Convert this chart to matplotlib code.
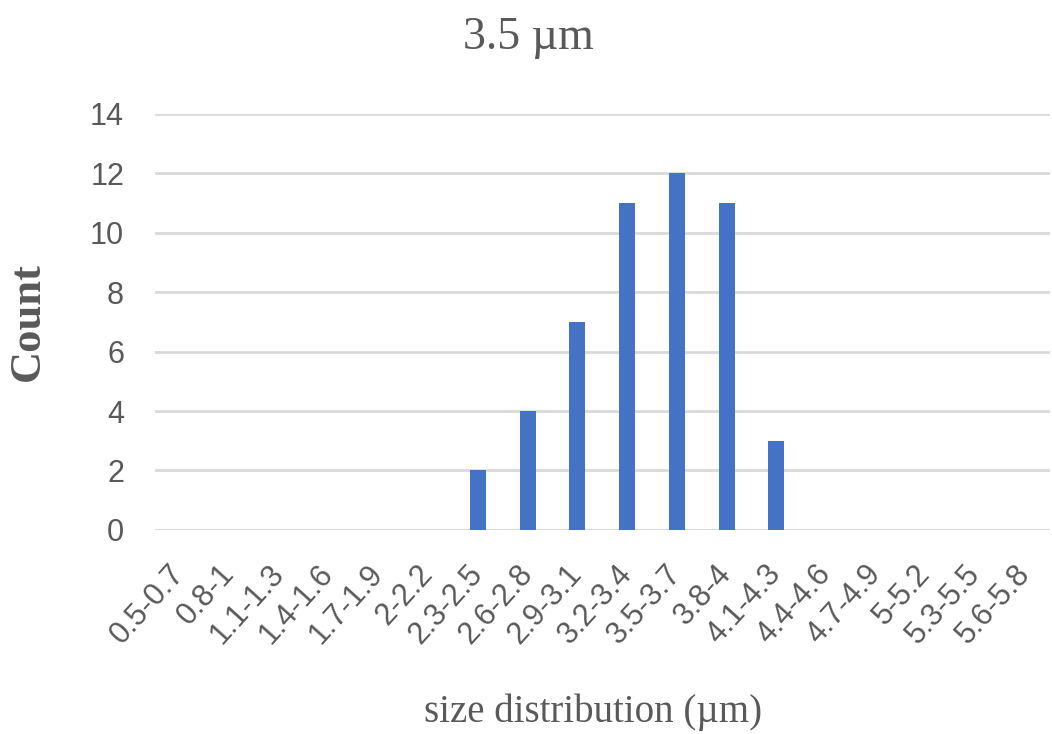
import matplotlib
matplotlib.use("Agg")
from matplotlib import pyplot as plt

categories = ["0.5-0.7", "0.8-1", "1.1-1.3", "1.4-1.6", "1.7-1.9", "2-2.2",
              "2.3-2.5", "2.6-2.8", "2.9-3.1", "3.2-3.4", "3.5-3.7", "3.8-4",
              "4.1-4.3", "4.4-4.6", "4.7-4.9", "5-5.2", "5.3-5.5", "5.6-5.8"]
counts = [0, 0, 0, 0, 0, 0, 2, 4, 7, 11, 12, 11, 3, 0, 0, 0, 0, 0]
yticks = [0, 2, 4, 6, 8, 10, 12, 14]

grey = "#595959"
tickfont = ["Liberation Sans Narrow", "Liberation Sans", "DejaVu Sans"]
serif = ["Liberation Serif", "DejaVu Serif"]

fig = plt.figure(figsize=(10.52, 7.34), dpi=100)
ax = fig.add_axes([0.147, 0.278, 0.851, 0.567])

x = range(len(categories))
ax.bar(x, counts, width=0.32, color="#4472C4", zorder=3)

ax.set_ylim(0, 14)
ax.set_xlim(-0.5, len(categories) - 0.5)
ax.set_yticks(yticks)
ax.set_xticks(list(x))
ax.set_xticklabels(categories, rotation=48, ha="right", va="center",
                   rotation_mode="anchor")
ax.yaxis.grid(True, color="#D9D9D9", linewidth=2, zorder=0)
for s in ax.spines.values():
    s.set_visible(False)
ax.axhline(0, color="#D9D9D9", linewidth=2, zorder=2)
ax.tick_params(length=0, labelcolor=grey, labelsize=22)
ax.tick_params(axis="y", pad=22)
ax.tick_params(axis="x", pad=28)
for lab in ax.get_xticklabels() + ax.get_yticklabels():
    lab.set_family(tickfont)

fig.text(0.502, 0.948, "3.5 µm", ha="center", va="center", fontsize=33,
         family=serif, color=grey)
ax.set_ylabel("Count", fontsize=32, family=serif, color=grey,
              fontweight="bold", labelpad=30)
fig.text(0.564, 0.03, "size distribution (µm)", ha="center", va="center",
         fontsize=28, family=serif, color=grey)

fig.savefig("out.png", dpi=100)
